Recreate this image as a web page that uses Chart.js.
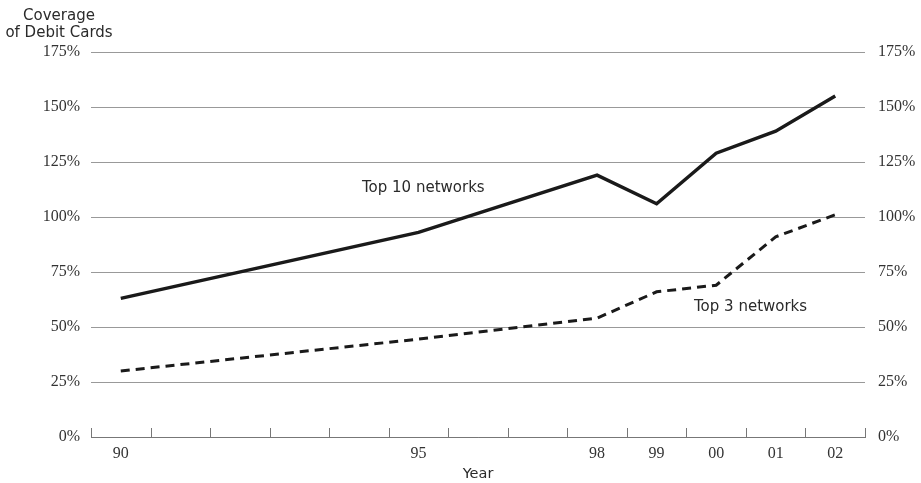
<!DOCTYPE html>
<html lang="en">
<head>
  <meta charset="UTF-8" />
  <title>Coverage of Debit Cards</title>
  <script src="https://cdn.jsdelivr.net/npm/chart.js"></script>
  <style>
    html, body {
      margin: 0;
      padding: 0;
      background: #fff;
    }
    .quadro {
      position: relative;
      width: 921px;
      height: 483px;
    }
    .rotulo {
      position: absolute;
      font-family: "DejaVu Sans", sans-serif;
      font-size: 15px;
      color: #2a2a2a;
      white-space: nowrap;
    }
    #tituloY {
      left: 0;
      top: 7px;
      width: 118px;
      text-align: center;
      line-height: 17px;
    }
  </style>
</head>
<body>
  <div class="quadro">
    <canvas id="grafico" width="921" height="483"></canvas>
    <div class="rotulo" id="tituloY">Coverage<br>of Debit Cards</div>
    <div class="rotulo" style="left: 362px; top: 178px;">Top 10 networks</div>
    <div class="rotulo" style="left: 694px; top: 297px;">Top 3 networks</div>
  </div>

  <script>
    // anos (categorias) e quais aparecem no eixo
    const anos = ['90','91','92','93','94','95','96','97','98','99','00','01','02'];
    const anosVisiveis = ['90','95','98','99','00','01','02'];

    // cobertura (%) - null onde não há ponto
    const top10 = [63, null, null, null, null, 93, null, null, 119, 106, 129, 139, 155];
    const top3  = [30, null, null, null, null, 44.5, null, null, 54, 66, 69, 91, 101];

    const ticksY = [0, 25, 50, 75, 100, 125, 150, 175];

    // marcas do eixo x viradas para cima
    const marcasX = {
      id: 'marcasX',
      afterDraw(chart) {
        const esc = chart.scales.x;
        const ctx = chart.ctx;
        const base = esc.top;
        ctx.save();
        ctx.strokeStyle = '#777';
        ctx.lineWidth = 1;
        for (let i = 0; i <= anos.length; i++) {
          let x;
          if (i === 0) x = esc.left;
          else if (i === anos.length) x = esc.right;
          else x = (esc.getPixelForValue(i - 1) + esc.getPixelForValue(i)) / 2;
          x = Math.round(x) + 0.5;
          ctx.beginPath();
          ctx.moveTo(x, base);
          ctx.lineTo(x, base - 9);
          ctx.stroke();
        }
        ctx.restore();
      }
    };

    const fonteSerif = { family: '"Liberation Serif", "DejaVu Serif", serif', size: 16 };

    const eixoY = (lado, largura, pad) => ({
      type: 'linear',
      position: lado,
      min: 0,
      max: 175,
      afterBuildTicks: s => { s.ticks = ticksY.map(v => ({ value: v })); },
      afterFit: s => { s.width = largura; },
      ticks: {
        font: fonteSerif,
        color: '#333',
        padding: pad,
        callback: v => v + '%'
      },
      grid: {
        display: lado === 'left',
        color: '#999',
        lineWidth: 1,
        drawTicks: false
      },
      border: { display: false }
    });

    new Chart(document.getElementById('grafico').getContext('2d'), {
      type: 'line',
      data: {
        labels: anos,
        datasets: [
          {
            label: 'Top 10 networks',
            data: top10,
            borderColor: '#1a1a1a',
            borderWidth: 3.5,
            pointRadius: 0,
            spanGaps: true,
            tension: 0
          },
          {
            label: 'Top 3 networks',
            data: top3,
            borderColor: '#1a1a1a',
            borderWidth: 3,
            borderDash: [9, 6],
            pointRadius: 0,
            spanGaps: true,
            tension: 0
          }
        ]
      },
      options: {
        responsive: false,
        animation: false,
        layout: { padding: { top: 52, right: 0, bottom: 0, left: 0 } },
        plugins: {
          legend: { display: false },
          tooltip: { enabled: false }
        },
        scales: {
          x: {
            type: 'category',
            offset: true,
            afterFit: s => { s.height = 46; },
            grid: { display: false, drawTicks: false },
            border: { display: true, color: '#777', width: 1 },
            ticks: {
              font: fonteSerif,
              color: '#333',
              padding: 7,
              autoSkip: false,
              maxRotation: 0,
              callback: function (v) {
                const l = this.getLabelForValue(v);
                return anosVisiveis.includes(l) ? l : '';
              }
            },
            title: {
              display: true,
              text: 'Year',
              font: { family: '"DejaVu Sans", sans-serif', size: 14.5 },
              color: '#2a2a2a',
              padding: { top: 0, bottom: 0 }
            }
          },
          y: eixoY('left', 91, 11),
          y2: eixoY('right', 56, 13)
        }
      },
      plugins: [marcasX]
    });
  </script>
</body>
</html>
